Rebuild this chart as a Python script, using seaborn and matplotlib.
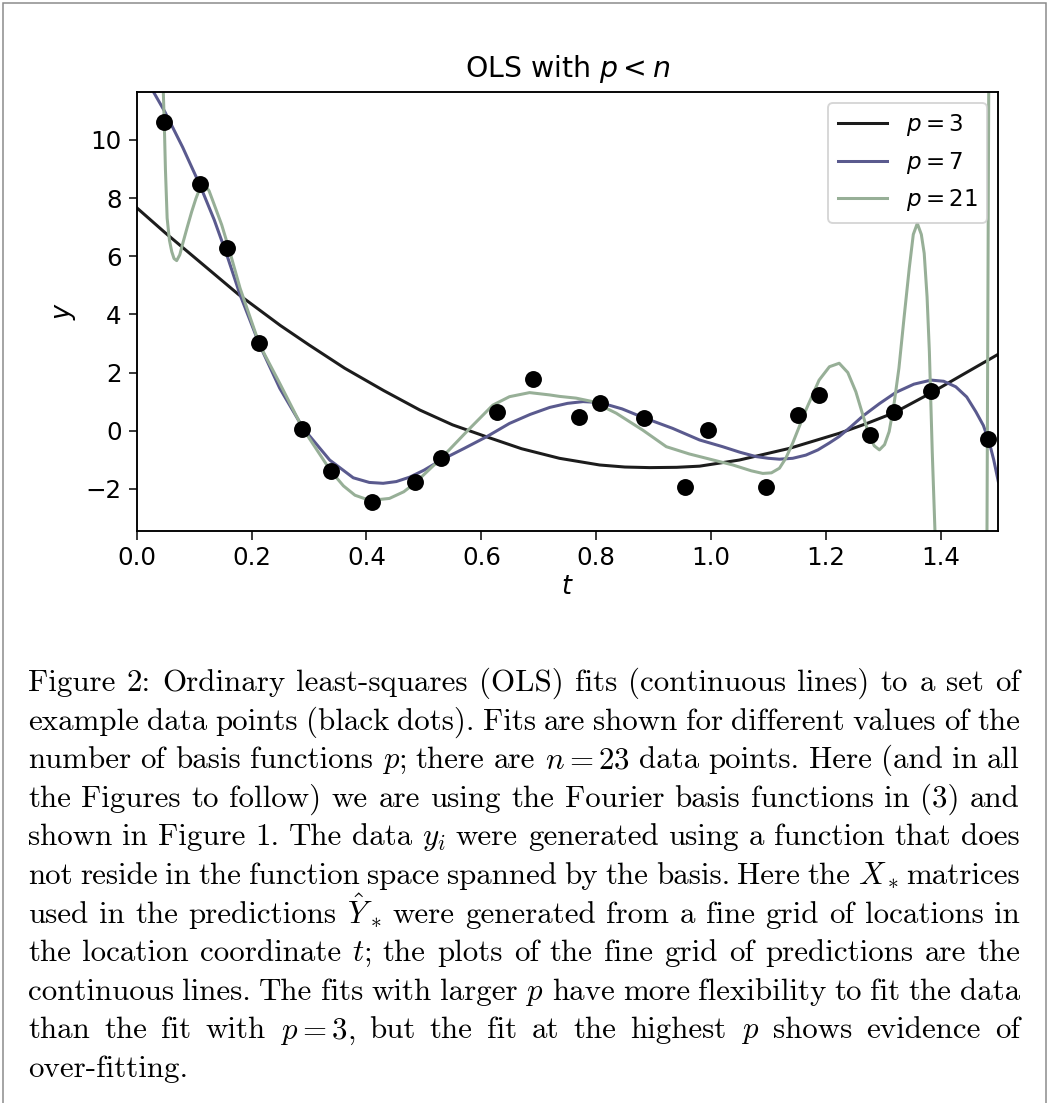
import re
import numpy as np
import pandas as pd
import matplotlib
matplotlib.use("Agg")
import matplotlib.pyplot as plt
import seaborn as sns
from matplotlib.patches import Rectangle

# data points (black dots)
t_obs = [0.048, 0.110, 0.157, 0.213, 0.288, 0.338, 0.410, 0.484, 0.530, 0.628, 0.690, 0.770,
         0.807, 0.883, 0.955, 0.995, 1.096, 1.152, 1.187, 1.277, 1.318, 1.383, 1.482]
y_obs = [10.63, 8.48, 6.27, 3.01, 0.07, -1.39, -2.46, -1.78, -0.93, 0.63, 1.77, 0.46,
         0.94, 0.45, -1.93, 0.02, -1.93, 0.54, 1.24, -0.15, 0.65, 1.37, -0.29]

# fitted curves
t_p3 = [0.0, 0.05, 0.1, 0.177, 0.25, 0.30, 0.362, 0.43, 0.493, 0.55, 0.609, 0.67, 0.736, 0.806,
        0.85, 0.893, 0.94, 0.98, 1.049, 1.136, 1.223, 1.27, 1.319, 1.383, 1.44, 1.5]
y_p3 = [7.67, 6.80, 5.97, 4.69, 3.62, 2.95, 2.15, 1.38, 0.71, 0.20, -0.21, -0.62, -0.95, -1.18,
        -1.25, -1.27, -1.26, -1.22, -1.01, -0.61, -0.09, 0.24, 0.62, 1.30, 1.95, 2.63]

t_p7 = [0.0, 0.029, 0.049, 0.080, 0.110, 0.135, 0.157, 0.180, 0.214, 0.249, 0.290, 0.336,
        0.377, 0.405, 0.429, 0.452, 0.475, 0.50, 0.530, 0.57, 0.609, 0.649, 0.685, 0.719,
        0.750, 0.777, 0.806, 0.845, 0.881, 0.933, 0.980, 1.020, 1.050, 1.078, 1.100, 1.119,
        1.142, 1.165, 1.186, 1.206, 1.223, 1.243, 1.264, 1.293, 1.322, 1.353, 1.383, 1.405,
        1.426, 1.445, 1.461, 1.474, 1.484, 1.492, 1.5]
y_p7 = [12.55, 11.66, 10.97, 9.75, 8.45, 7.25, 6.04, 4.67, 2.95, 1.46, 0.08, -1.01,
        -1.62, -1.78, -1.81, -1.75, -1.60, -1.36, -1.01, -0.61, -0.21, 0.25, 0.56, 0.80,
        0.94, 1.00, 0.97, 0.75, 0.46, 0.08, -0.32, -0.55, -0.74, -0.89, -0.95, -0.98,
        -0.95, -0.84, -0.66, -0.42, -0.20, 0.13, 0.50, 0.93, 1.32, 1.60, 1.74, 1.70,
        1.51, 1.16, 0.65, 0.18, -0.38, -1.00, -1.75]

t_p21 = [0.0, 0.030, 0.040, 0.044, 0.0463, 0.048, 0.050, 0.053, 0.057, 0.061, 0.065, 0.0696,
         0.075, 0.081, 0.088, 0.0957, 0.103, 0.110, 0.119, 0.126, 0.133, 0.148, 0.162, 0.180,
         0.214, 0.249, 0.289, 0.338, 0.360, 0.380, 0.406, 0.440, 0.465, 0.484, 0.530, 0.577,
         0.600, 0.620, 0.649, 0.684, 0.719, 0.736, 0.765, 0.794, 0.835, 0.881, 0.922, 0.962,
         0.980, 1.038, 1.070, 1.090, 1.105, 1.119, 1.130, 1.142, 1.165, 1.188, 1.206, 1.223,
         1.238, 1.252, 1.264, 1.275, 1.284, 1.293, 1.302, 1.310, 1.318, 1.327, 1.336, 1.345,
         1.352, 1.359, 1.366, 1.371, 1.376, 1.380, 1.385, 1.390, 1.400, 1.430, 1.460, 1.476,
         1.479, 1.484, 1.5]
y_p21 = [80.0, 40.0, 20.0, 14.0, 11.66, 10.6, 9.0, 7.31, 6.55, 6.16, 5.92, 5.85,
         6.05, 6.50, 7.00, 7.53, 7.98, 8.34, 8.45, 8.25, 7.88, 7.08, 6.16, 4.90,
         2.95, 1.63, 0.08, -1.39, -1.90, -2.22, -2.40, -2.33, -2.10, -1.81, -0.95, 0.02,
         0.48, 0.88, 1.17, 1.31, 1.23, 1.18, 1.12, 1.00, 0.60, 0.02, -0.55, -0.80,
         -0.89, -1.18, -1.38, -1.47, -1.45, -1.29, -0.95, -0.43, 0.71, 1.74, 2.20, 2.32,
         2.00, 1.34, 0.55, -0.15, -0.52, -0.66, -0.48, -0.03, 0.85, 2.15, 3.90, 5.59,
         6.75, 7.13, 6.75, 6.10, 4.60, 2.72, -0.72, -3.6, -10.0, -35.0, -30.0, -15.0,
         -10.0, 15.0, 60.0]

labels = ["$p = 3$", "$p = 7$", "$p = 21$"]
colors = ["#1c1c1c", "#5a5a8e", "#97af97"]

caption = [
    "Figure 2: Ordinary least-squares (OLS) fits (continuous lines) to a set of",
    "example data points (black dots). Fits are shown for different values of the",
    "number of basis functions $p$; there are $n = 23$ data points. Here (and in all",
    "the Figures to follow) we are using the Fourier basis functions in (3) and",
    "shown in Figure 1. The data $y_i$ were generated using a function that does",
    "not reside in the function space spanned by the basis. Here the $X_*$ matrices",
    "used in the predictions $\\hat{Y}_*$ were generated from a fine grid of locations in",
    "the location coordinate $t$; the plots of the fine grid of predictions are the",
    "continuous lines. The fits with larger $p$ have more flexibility to fit the data",
    "than the fit with $p = 3$, but the fit at the highest $p$ shows evidence of",
    "over-fitting.",
]

W, H, DPI = 1048, 1103, 136
plt.rcParams["xtick.labelsize"] = 13
plt.rcParams["ytick.labelsize"] = 13
plt.rcParams["xtick.major.size"] = 4.5
plt.rcParams["ytick.major.size"] = 4.5
plt.rcParams["axes.linewidth"] = 1.0

fig = plt.figure(figsize=(W / DPI, H / DPI), dpi=DPI)
ax = fig.add_axes([136.7 / W, 1 - 530.7 / H, (998.3 - 136.7) / W, (530.7 - 91.7) / H])

curves = [(t_p3, y_p3), (t_p7, y_p7), (t_p21, y_p21)]
for (tt, yy), lab, col in zip(curves, labels, colors):
    sns.lineplot(x=tt, y=yy, ax=ax, color=col, label=lab, linewidth=1.6,
                 sort=False, estimator=None)

sns.scatterplot(x=t_obs, y=y_obs, ax=ax, color="black", s=80, linewidth=0, zorder=5)

ax.set_xlim(0, 1.5)
ax.set_ylim(-3.44, 11.66)
ax.set_xticks(np.arange(0, 1.41, 0.2))
ax.set_yticks(np.arange(-2, 11, 2))
ax.set_xlabel("$t$", fontsize=13.5, labelpad=2)
ax.set_ylabel("$y$", fontsize=13.5)
ax.set_title("OLS with $p < n$", fontsize=15, pad=8)
ax.legend(loc="upper right", fontsize=12.2, handlelength=2.15)

# page frame
fig.add_artist(Rectangle((2.5 / W, -0.05), (W - 5) / W, 1.05 - 2.5 / H, transform=fig.transFigure,
                         fill=False, edgecolor="#8a8a8a", linewidth=0.8))

# justified caption
renderer = fig.canvas.get_renderer()
x_left, x_right = 28, 1020
base0, step = 691, 38.6
for i, line in enumerate(caption):
    words = re.findall(r"(?:\$[^$]*\$|[^\s$])+", line)
    y = 1 - (base0 + i * step) / H
    texts = [fig.text(0, y, w, fontsize=16.4, family="cmr10", math_fontfamily="cm",
                      va="baseline", ha="left") for w in words]
    widths = [t.get_window_extent(renderer).width for t in texts]
    if i == len(caption) - 1:
        gap = 9
    else:
        gap = (x_right - x_left - sum(widths)) / (len(words) - 1)
    x = x_left
    for t, w in zip(texts, widths):
        t.set_x(x / W)
        x += w + gap

fig.savefig("out.png", dpi=DPI)
